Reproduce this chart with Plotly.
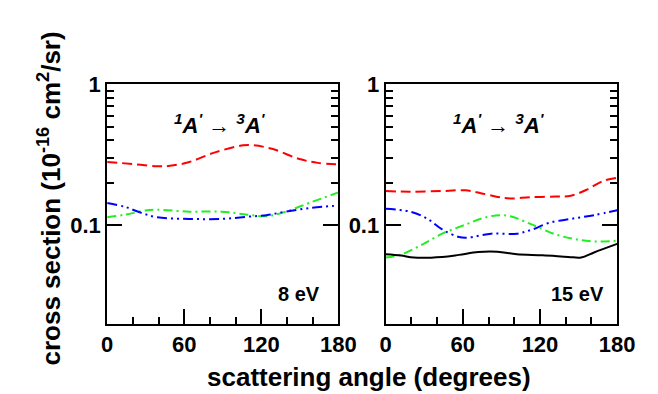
import plotly.graph_objects as go

# ---- data (angle in degrees, cross section in 1e-16 cm^2/sr) ----
# 8 eV panel
red8_x = [0, 20, 39, 49, 64, 84, 106, 114, 129, 149, 164, 180]
red8_y = [0.281, 0.272, 0.262, 0.264, 0.281, 0.329, 0.369, 0.369, 0.347, 0.296, 0.277, 0.271]
green8_x = [0, 14, 31, 39, 64, 89, 109, 124, 139, 159, 180]
green8_y = [0.114, 0.119, 0.128, 0.129, 0.125, 0.125, 0.119, 0.116, 0.125, 0.146, 0.171]
blue8_x = [0, 14, 26, 39, 64, 89, 109, 124, 139, 159, 180]
blue8_y = [0.144, 0.135, 0.123, 0.114, 0.111, 0.111, 0.115, 0.118, 0.125, 0.133, 0.138]

# 15 eV panel
red15_x = [0, 19, 44, 62, 74, 87, 97, 112, 132, 144, 157, 169, 180]
red15_y = [0.175, 0.173, 0.175, 0.177, 0.169, 0.159, 0.155, 0.158, 0.160, 0.162, 0.180, 0.206, 0.217]
blue15_x = [0, 19, 32, 44, 57, 64, 82, 102, 114, 127, 144, 162, 180]
blue15_y = [0.131, 0.125, 0.112, 0.0934, 0.0827, 0.0818, 0.0872, 0.0872, 0.0934, 0.104, 0.111, 0.118, 0.128]
green15_x = [0, 12, 27, 44, 62, 77, 89, 97, 114, 132, 147, 162, 180]
green15_y = [0.0591, 0.0620, 0.0718, 0.0872, 0.101, 0.1135, 0.118, 0.116, 0.101, 0.0863, 0.0798, 0.0769, 0.0777]
black15_x = [0, 12, 22, 44, 57, 72, 87, 102, 122, 142, 152, 162, 180]
black15_y = [0.0623, 0.0610, 0.0591, 0.0597, 0.0617, 0.0647, 0.0650, 0.0623, 0.0613, 0.0597, 0.0591, 0.0642, 0.0738]

x_major = [0, 60, 120, 180]
x_labels = ["0", "60", "120", "180"]
y_major = [0.1, 1]
y_labels = ["0.1", "1"]
y_minor = [0.2, 0.3, 0.4, 0.5, 0.6, 0.7, 0.8, 0.9]

panel_labels = ["8 eV", "15 eV"]
transition = "<b><i><sup>1</sup>A<sup>'</sup> \u2192 <sup>3</sup>A<sup>'</sup></i></b>"

RED = "#ff0000"
GREEN = "#22ee22"
BLUE = "#0000ff"
DASH = "10px,5px"
DASHDOT = "9px,4px,2px,4px"
DASHDOTDOT = "10px,4px,2px,4px,2px,4px"

fig = go.Figure()

def add(x, y, color, dash, ax):
    fig.add_trace(go.Scatter(
        x=x, y=y, mode="lines", line=dict(color=color, dash=dash, width=2, shape="spline", smoothing=1.0),
        xaxis=ax[0], yaxis=ax[1], showlegend=False, hoverinfo="skip"))

add(red8_x, red8_y, RED, DASH, ("x", "y"))
add(green8_x, green8_y, GREEN, DASHDOT, ("x", "y"))
add(blue8_x, blue8_y, BLUE, DASHDOTDOT, ("x", "y"))

add(red15_x, red15_y, RED, DASH, ("x2", "y2"))
add(blue15_x, blue15_y, BLUE, DASHDOTDOT, ("x2", "y2"))
add(green15_x, green15_y, GREEN, DASHDOT, ("x2", "y2"))
add(black15_x, black15_y, "#000000", "solid", ("x2", "y2"))

FONT = "Liberation Sans"
tickfont = dict(family=FONT, size=22, color="black", weight="bold")

W, H = 658, 394

def px(X):
    return X / W

def py(Y):
    return 1 - Y / H

ydom = [py(321.7), py(74.5)]
xdom1 = [px(105), px(345)]
xdom2 = [px(394), px(634.3)]

def xax(dom, anchor):
    return dict(domain=dom, anchor=anchor, range=[0, 180], tickmode="array",
                tickvals=x_major, ticktext=x_labels, ticks="inside", ticklen=15, tickwidth=1.5,
                tickcolor="black", showline=True, linecolor="black", linewidth=2, mirror=True,
                showgrid=False, zeroline=False, tickfont=tickfont,
                minor=dict(tickmode="linear", tick0=0, dtick=20, ticks="inside", ticklen=7,
                           tickwidth=1.5, tickcolor="black", showgrid=False))

def yax(anchor):
    return dict(domain=ydom, anchor=anchor, type="log", range=[-1.69897, 0], tickmode="array",
                tickvals=y_major, ticktext=y_labels, ticks="inside", ticklen=15, tickwidth=1.5,
                tickcolor="black", showline=True, linecolor="black", linewidth=2, mirror="ticks",
                showgrid=False, zeroline=False, tickfont=tickfont,
                minor=dict(tickmode="array", tickvals=y_minor, ticks="inside", ticklen=7,
                           tickwidth=1.5, tickcolor="black", showgrid=False))

fig.update_layout(
    width=W, height=H, margin=dict(l=0, r=0, t=0, b=0),
    paper_bgcolor="white", plot_bgcolor="white",
    xaxis=xax(xdom1, "y"), yaxis=yax("x"),
    xaxis2=xax(xdom2, "y2"), yaxis2=yax("x2"),
    font=dict(family=FONT, color="black"),
)

anns = []
for i, (xr, yr) in enumerate([("x domain", "y domain"), ("x2 domain", "y2 domain")]):
    anns.append(dict(x=0.49, y=0.835, xref=xr, yref=yr, text=transition, showarrow=False,
                     font=dict(family=FONT, size=22, color="black"), xanchor="center", yanchor="middle"))
    anns.append(dict(x=0.828, y=0.125, xref=xr, yref=yr, text="<b>" + panel_labels[i] + "</b>",
                     showarrow=False, font=dict(family=FONT, size=20, color="black"),
                     xanchor="center", yanchor="middle"))
anns.append(dict(x=px(377), y=py(376), xref="paper", yref="paper",
                 text="<b>scattering angle (degrees)</b>", showarrow=False,
                 font=dict(family=FONT, size=26, color="black"), xanchor="center", yanchor="middle"))
anns.append(dict(x=px(45), y=py(192), xref="paper", yref="paper", textangle=-90,
                 text="<b>cross section (10<sup>-16</sup> cm<sup>2</sup>/sr)</b>", showarrow=False,
                 font=dict(family=FONT, size=26, color="black"), xanchor="center", yanchor="middle"))
fig.update_layout(annotations=anns)

fig.write_html("out.html")
